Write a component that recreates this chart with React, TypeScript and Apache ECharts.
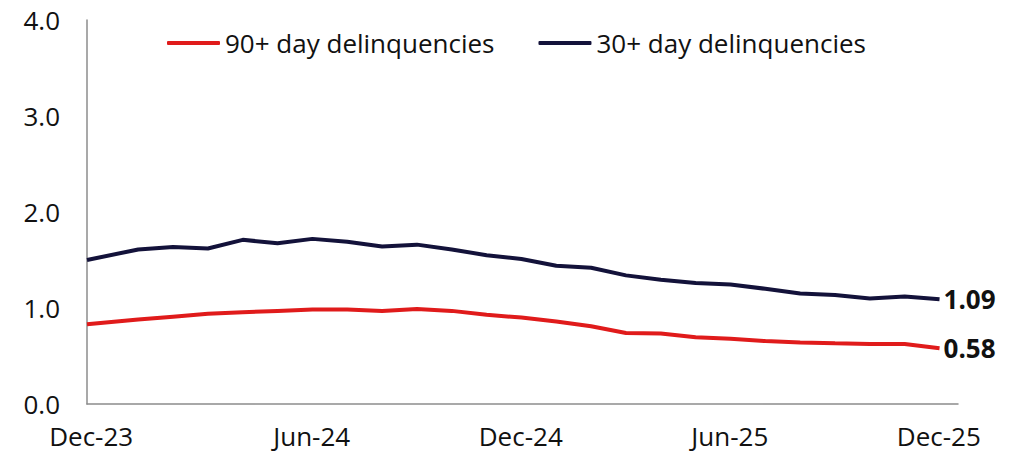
import React, { useEffect, useRef } from "react";
import * as echarts from "echarts";

// Observation positions, in months after Dec-23
const monthPos = [0, 1.47, 2.47, 3.47, 4.47, 5.47, 6.47, 7.47, 8.47, 9.47, 10.47, 11.47, 12.47, 13.47, 14.47, 15.47, 16.47, 17.47, 18.47, 19.47, 20.47, 21.47, 22.47, 23.47, 24.47];

const delinq90 = [0.83, 0.88, 0.91, 0.94, 0.955, 0.97, 0.985, 0.985, 0.97, 0.99, 0.97, 0.93, 0.90, 0.86, 0.81, 0.74, 0.735, 0.695, 0.68, 0.655, 0.64, 0.632, 0.625, 0.625, 0.58];
const delinq30 = [1.50, 1.61, 1.635, 1.62, 1.71, 1.675, 1.72, 1.69, 1.64, 1.66, 1.61, 1.55, 1.51, 1.44, 1.42, 1.34, 1.295, 1.26, 1.245, 1.20, 1.15, 1.135, 1.10, 1.12, 1.09];

const tickLabels = ["Dec-23", "Jun-24", "Dec-24", "Jun-25", "Dec-25"];
const tickPos = [0.12, 6.45, 12.45, 18.45, 24.45];

const seriesNames = ["90+ day delinquencies", "30+ day delinquencies"];
const FONT = "Open Sans";
const FS = 26;

export default function App() {
  const ref = useRef<HTMLDivElement>(null);
  useEffect(() => {
    document.body.style.margin = "0";
    const chart = echarts.init(ref.current!, null, { renderer: "svg" });
    const pairs = (vals: number[]) => vals.map((v, i) => [monthPos[i], v]);
    const endLabel = {
      show: true,
      formatter: (p: any) => p.value[1].toFixed(2),
      fontFamily: FONT,
      fontSize: FS,
      fontWeight: "bold",
      color: "#111111",
      distance: 4,
    };
    chart.setOption({
      animation: false,
      backgroundColor: "#ffffff",
      textStyle: { fontFamily: FONT },
      grid: { left: 87, right: 65, top: 20, bottom: 52, containLabel: false },
      legend: {
        show: true,
        left: 162,
        top: 25,
        itemWidth: 53,
        itemHeight: 4,
        itemGap: 44,
        icon: "roundRect",
        textStyle: { fontFamily: FONT, fontSize: FS, color: "#111111" },
        data: seriesNames,
      },
      xAxis: {
        type: "value",
        min: 0,
        max: 25,
        splitLine: { show: false },
        axisLine: { show: true, lineStyle: { color: "#8c8c8c", width: 1.5 } },
        axisTick: { show: false },
        axisLabel: {
          customValues: tickPos,
          margin: 19,
          fontFamily: FONT,
          fontSize: FS,
          color: "#111111",
          formatter: (v: number) => {
            const i = tickPos.indexOf(v);
            return i >= 0 ? tickLabels[i] : "";
          },
        },
      },
      yAxis: {
        type: "value",
        min: 0,
        max: 4,
        interval: 1,
        splitLine: { show: false },
        axisLine: { show: true, lineStyle: { color: "#8c8c8c", width: 1.5 } },
        axisTick: { show: false },
        axisLabel: {
          margin: 27,
          fontFamily: FONT,
          fontSize: FS,
          color: "#111111",
          formatter: (v: number) => v.toFixed(1),
        },
      },
      series: [
        {
          name: seriesNames[0],
          type: "line",
          symbol: "none",
          data: pairs(delinq90),
          lineStyle: { color: "#e01b1b", width: 4 },
          itemStyle: { color: "#e01b1b" },
          endLabel,
        },
        {
          name: seriesNames[1],
          type: "line",
          symbol: "none",
          data: pairs(delinq30),
          lineStyle: { color: "#13123a", width: 4 },
          itemStyle: { color: "#13123a" },
          endLabel,
        },
      ],
    });
    return () => chart.dispose();
  }, []);
  return <div ref={ref} style={{ width: 1023, height: 456 }} />;
}
